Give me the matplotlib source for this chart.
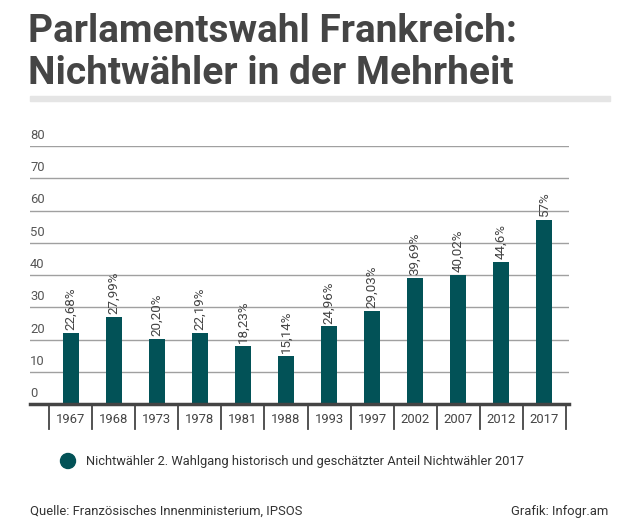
import matplotlib.pyplot as plt
import numpy as np

# Daten
years = ['1967', '1968', '1973', '1978', '1981', '1988', '1993', '1997', '2002', '2007', '2012', '2017']
bar_values = [22.1, 27.0, 20.2, 22.1, 18.0, 15.1, 24.1, 29.0, 39.1, 40.0, 44.0, 57.0]
bar_labels = ['22,68%', '27,99%', '20,20%', '22,19%', '18,23%', '15,14%',
              '24,96%', '29,03%', '39,69%', '40,02%', '44,6%', '57%']
y_ticks = [0, 10, 20, 30, 40, 50, 60, 70, 80]

plt.rcParams['font.family'] = ['Roboto', 'DejaVu Sans']

W, H = 636, 527
fig = plt.figure(figsize=(W / 100, H / 100), dpi=100)

def fx(px):
    return px / W

def fy(py):
    return 1 - py / H

# Titel
fig.text(fx(28), fy(42), 'Parlamentswahl Frankreich:', fontsize=28, fontweight='bold',
         color='#454545', va='baseline', ha='left')
fig.text(fx(28), fy(84), 'Nichtwähler in der Mehrheit', fontsize=28, fontweight='bold',
         color='#454545', va='baseline', ha='left')
fig.patches.append(plt.Rectangle((fx(30), fy(101)), fx(580), 5 / H, transform=fig.transFigure,
                                 color='#e5e5e5', zorder=0))

# Achsen
left, right, top, bottom = 30, 569, 146, 404.3
ax = fig.add_axes([fx(left), fy(bottom), fx(right - left), (bottom - top) / H])
x = np.arange(len(years))
cat_w = (565.7 - 49.3) / len(years)
ax.set_xlim(-0.5 - (49.3 - left) / cat_w, 11.5 + (right - 565.7) / cat_w)
ax.set_ylim(0, 80)
for s in ax.spines.values():
    s.set_visible(False)

for v in y_ticks[1:]:
    ax.axhline(v, color='#a0a0a0', lw=1, zorder=1)
ax.axhline(0, color='#444444', lw=2.5, zorder=3, clip_on=False)

ax.bar(x, bar_values, width=0.37, color='#025257', zorder=2)

for xi, v, lab in zip(x, bar_values, bar_labels):
    ax.annotate(lab, (xi, v), xytext=(0, 2), textcoords='offset points', rotation=90,
                ha='center', va='bottom', fontsize=9.6, color='#444444')

ytr = ax.get_yaxis_transform()
for v in y_ticks:
    ax.annotate(str(v), (0, v), xycoords=ytr, xytext=(0, 3), textcoords='offset points',
                ha='left', va='bottom', fontsize=9.4, color='#555555')

xtr = ax.get_xaxis_transform()
sep_len = 25 / (bottom - top)
for b in np.arange(len(years) + 1) - 0.5:
    ax.plot([b, b], [0, -sep_len], transform=xtr, color='#444444', lw=1.3, clip_on=False)

ax.set_yticks([])
ax.set_xticks(x, years)
ax.tick_params(axis='x', length=0, pad=6, labelsize=9.4, labelcolor='#444444')

# Legende
dot = plt.Circle((68 / 100, (H - 461) / 100), 0.075, transform=fig.dpi_scale_trans,
                 color='#025257')
fig.patches.append(dot)
fig.text(fx(86), fy(461), 'Nichtwähler 2. Wahlgang historisch und geschätzter Anteil Nichtwähler 2017',
         fontsize=9.3, color='#333333', va='center', ha='left')

# Fusszeile
fig.text(fx(30), fy(511), 'Quelle: Französisches Innenministerium, IPSOS',
         fontsize=9.35, color='#333333', va='center', ha='left')
fig.text(fx(608), fy(511), 'Grafik: Infogr.am',
         fontsize=9.35, color='#333333', va='center', ha='right')

fig.savefig('out.png', dpi=100)
